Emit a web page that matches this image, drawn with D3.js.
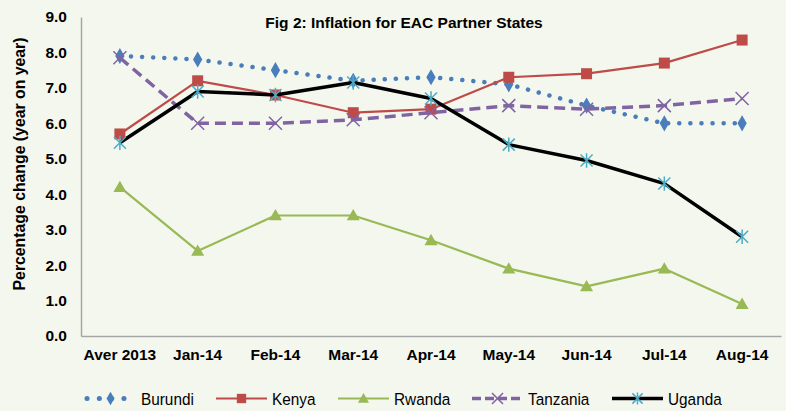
<!DOCTYPE html>
<html><head><meta charset="utf-8">
<script src="https://cdn.jsdelivr.net/npm/d3@7"></script>
<style>
html,body{margin:0;padding:0;background:#f4f7ee;}
svg{display:block;}
text{font-family:"Liberation Sans",Arial,sans-serif;}
</style></head>
<body><svg id="c" width="786" height="411"></svg>
<script>
const categories = ["Aver 2013","Jan-14","Feb-14","Mar-14","Apr-14","May-14","Jun-14","Jul-14","Aug-14"];
const burundi  = [7.9, 7.8, 7.5, 7.2, 7.3, 7.1, 6.5, 6.0, 6.0];
const kenya    = [5.7, 7.2, 6.8, 6.3, 6.4, 7.3, 7.4, 7.7, 8.35];
const rwanda   = [4.2, 2.4, 3.4, 3.4, 2.7, 1.9, 1.4, 1.9, 0.9];
const tanzania = [7.85, 6.0, 6.0, 6.1, 6.3, 6.5, 6.4, 6.5, 6.7];
const uganda   = [5.45, 6.9, 6.8, 7.15, 6.7, 5.4, 4.95, 4.3, 2.8];
const yTicks = [0,1,2,3,4,5,6,7,8,9];
const title = "Fig 2: Inflation for EAC Partner States";
const yLabel = "Percentage change (year on year)";

const series = [
  {name:"Burundi", values:burundi, color:"#4a7ebb", width:4.5, dash:"0.1 11", cap:"round", marker:"diamond", mcolor:"#4a7ebb"},
  {name:"Kenya", values:kenya, color:"#be4b48", width:2.2, dash:null, cap:"butt", marker:"square", mcolor:"#be4b48"},
  {name:"Rwanda", values:rwanda, color:"#98b954", width:2.2, dash:null, cap:"butt", marker:"triangle", mcolor:"#98b954"},
  {name:"Tanzania", values:tanzania, color:"#8064a2", width:3.5, dash:"11 6", cap:"butt", marker:"x", mcolor:"#8064a2"},
  {name:"Uganda", values:uganda, color:"#000000", width:3.5, dash:null, cap:"butt", marker:"star", mcolor:"#4bacc6"}
];

const svg = d3.select("#c");
const x = d3.scaleBand().domain(categories).range([81, 781]);
const y = d3.scaleLinear().domain([0, 9]).range([336, 17]);
const cx = d => x(d) + x.bandwidth()/2;

// axes
const yAxis = svg.append("g").attr("transform","translate(81,0)")
  .call(d3.axisLeft(y).tickValues(yTicks).tickSize(0).tickPadding(14).tickFormat(d3.format(".1f")));
yAxis.select(".domain").attr("stroke","#a6a6a6").attr("stroke-width",1.5);
yAxis.selectAll("text").attr("font-size",15.5).attr("font-weight","bold").attr("fill","#000");

const xAxis = svg.append("g").attr("transform","translate(0,336)")
  .call(d3.axisBottom(x).tickSize(0).tickPadding(13));
xAxis.select(".domain").attr("stroke","#a6a6a6").attr("stroke-width",1.5);
xAxis.selectAll("text").attr("font-size",15.5).attr("font-weight","bold").attr("fill","#000");

// title
svg.append("text").attr("x",404).attr("y",28).attr("text-anchor","middle")
  .attr("font-size",15.5).attr("font-weight","bold").text(title);
svg.append("text").attr("transform","translate(25,164) rotate(-90)").attr("text-anchor","middle")
  .attr("font-size",15.8).attr("font-weight","bold").text(yLabel);

function drawMarker(g, type, px, py, color, s){
  s = s || 1;
  if(type==="diamond"){
    g.append("path").attr("d",d3.symbol(d3.symbolDiamond, 75*s*s)()).attr("transform",`translate(${px},${py})`).attr("fill",color);
  } else if(type==="square"){
    g.append("rect").attr("x",px-5.5*s).attr("y",py-5.5*s).attr("width",11*s).attr("height",11*s).attr("fill",color);
  } else if(type==="triangle"){
    const r=6.5*s;
    g.append("path").attr("d",`M${px},${py-r}L${px+r},${py+r*0.75}L${px-r},${py+r*0.75}Z`).attr("fill",color);
  } else if(type==="x"){
    const r=6.5*s;
    g.append("path").attr("d",`M${px-r},${py-r}L${px+r},${py+r}M${px-r},${py+r}L${px+r},${py-r}`).attr("stroke",color).attr("stroke-width",1.5);
  } else if(type==="star"){
    const r=6*s;
    g.append("path").attr("d",`M${px-r},${py-r}L${px+r},${py+r}M${px-r},${py+r}L${px+r},${py-r}M${px},${py-r*1.2}L${px},${py+r*1.2}`).attr("stroke",color).attr("stroke-width",1.5);
  }
}

const line = d3.line().x((d,i)=>cx(categories[i])).y(d=>y(d));
series.forEach(s=>{
  const g = svg.append("g");
  g.append("path").datum(s.values).attr("d",line).attr("fill","none")
    .attr("stroke",s.color).attr("stroke-width",s.width)
    .attr("stroke-dasharray",s.dash).attr("stroke-linecap",s.cap).attr("stroke-linejoin","round");
  s.values.forEach((v,i)=>drawMarker(g,s.marker,cx(categories[i]),y(v),s.mcolor));
});

// legend
const legendX = [85, 216, 338, 472, 612];
const lg = svg.append("g");
series.forEach((s,i)=>{
  const lx = legendX[i], ly = 398.5;
  lg.append("line").attr("x1",s.cap==="round"?lx+2:lx).attr("x2",lx+51).attr("y1",ly).attr("y2",ly)
    .attr("stroke",s.color).attr("stroke-width",s.cap==="round"?5:s.width)
    .attr("stroke-dasharray",s.dash? (s.cap==="round"?"0.1 12.2":"9 4") : null).attr("stroke-linecap",s.cap);
  drawMarker(lg,s.marker,lx+25.5,ly,s.mcolor,0.85);
  lg.append("text").attr("transform",`translate(${lx+56},${ly+6}) scale(0.93,1)`).attr("font-size",16.5)
    .text(s.name);
});
</script></body></html>
